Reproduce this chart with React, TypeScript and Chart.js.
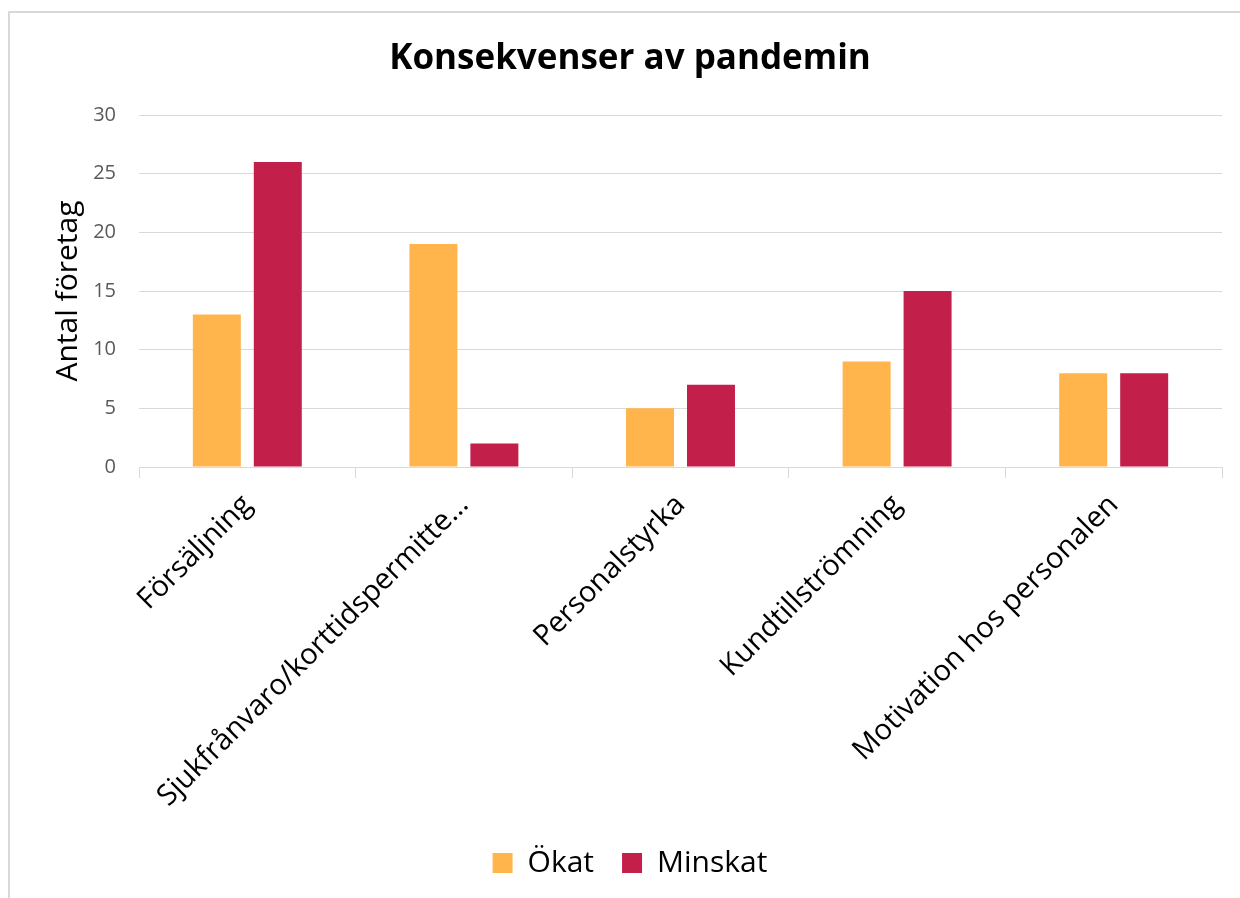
import React, { useEffect, useRef } from "react";
import { Chart, registerables } from "chart.js";

Chart.register(...registerables);

const categories = [
  "Försäljning",
  "Sjukfrånvaro/korttidspermitte…",
  "Personalstyrka",
  "Kundtillströmning",
  "Motivation hos personalen",
];
const okat = [13, 19, 5, 9, 8];
const minskat = [26, 2, 7, 15, 8];
const yTicks = [0, 5, 10, 15, 20, 25, 30];

const FONT = "'Open Sans', 'Noto Sans', sans-serif";

export default function App() {
  const ref = useRef<HTMLCanvasElement | null>(null);

  useEffect(() => {
    if (!ref.current) return;
    const chart = new Chart(ref.current, {
      type: "bar",
      data: {
        labels: categories,
        datasets: [
          {
            label: "Ökat",
            data: okat,
            backgroundColor: "#FFB54C",
            categoryPercentage: 0.563,
            barPercentage: 0.787,
          },
          {
            label: "Minskat",
            data: minskat,
            backgroundColor: "#C31F4B",
            categoryPercentage: 0.563,
            barPercentage: 0.787,
          },
        ],
      },
      options: {
        animation: false,
        responsive: false,
        maintainAspectRatio: false,
        layout: { padding: { left: 0, right: 0, top: 0, bottom: 10 } },
        plugins: {
          title: {
            display: true,
            text: "Konsekvenser av pandemin",
            color: "#000000",
            font: { family: FONT, size: 35, weight: "bold" },
            padding: { top: 25, bottom: 35 },
          },
          legend: {
            display: true,
            position: "bottom",
            labels: {
              color: "#000000",
              font: { family: FONT, size: 30 },
              boxWidth: 20,
              boxHeight: 20,
              padding: 28,
            },
          },
          tooltip: { enabled: false },
        },
        scales: {
          x: {
            grid: {
              display: true,
              drawOnChartArea: false,
              drawTicks: true,
              tickLength: 11,
              color: "#D9D9D9",
              lineWidth: 1,
            },
            border: { display: true, color: "#D9D9D9", width: 1 },
            ticks: {
              color: "#000000",
              font: { family: FONT, size: 29 },
              maxRotation: 45,
              minRotation: 45,
              autoSkip: false,
              padding: 10,
            },
            afterFit: (scale: any) => {
              const legendH = scale.chart.legend ? scale.chart.legend.height : 0;
              scale.height = scale.chart.height - 10 - legendH - 454;
            },
          },
          y: {
            min: 0,
            max: 30,
            afterBuildTicks: (scale: any) => {
              scale.ticks = yTicks.map((v) => ({ value: v }));
            },
            grid: {
              color: "#D9D9D9",
              lineWidth: 1,
              drawTicks: false,
            },
            border: { display: false },
            ticks: {
              color: "#595959",
              font: { family: FONT, size: 20 },
              padding: 23,
            },
            title: {
              display: true,
              text: "Antal företag",
              color: "#000000",
              font: { family: FONT, size: 30 },
              padding: { top: 40, bottom: 0 },
            },
            afterFit: (scale: any) => {
              scale.width = 129;
            },
          },
          yRight: {
            position: "right",
            display: true,
            grid: { display: false, drawTicks: false },
            border: { display: false },
            ticks: { display: false },
            afterFit: (scale: any) => {
              scale.width = 28;
            },
          },
        },
      },
    });
    return () => chart.destroy();
  }, []);

  return (
    <div
      style={{
        position: "absolute",
        left: 8,
        top: 11,
        width: 1232,
        height: 887,
        boxSizing: "border-box",
        borderLeft: "2px solid #D9D9D9",
        borderTop: "2px solid #D9D9D9",
        background: "#FFFFFF",
        overflow: "hidden",
      }}
    >
      <canvas ref={ref} width={1240} height={885} style={{ display: "block" }} />
    </div>
  );
}
